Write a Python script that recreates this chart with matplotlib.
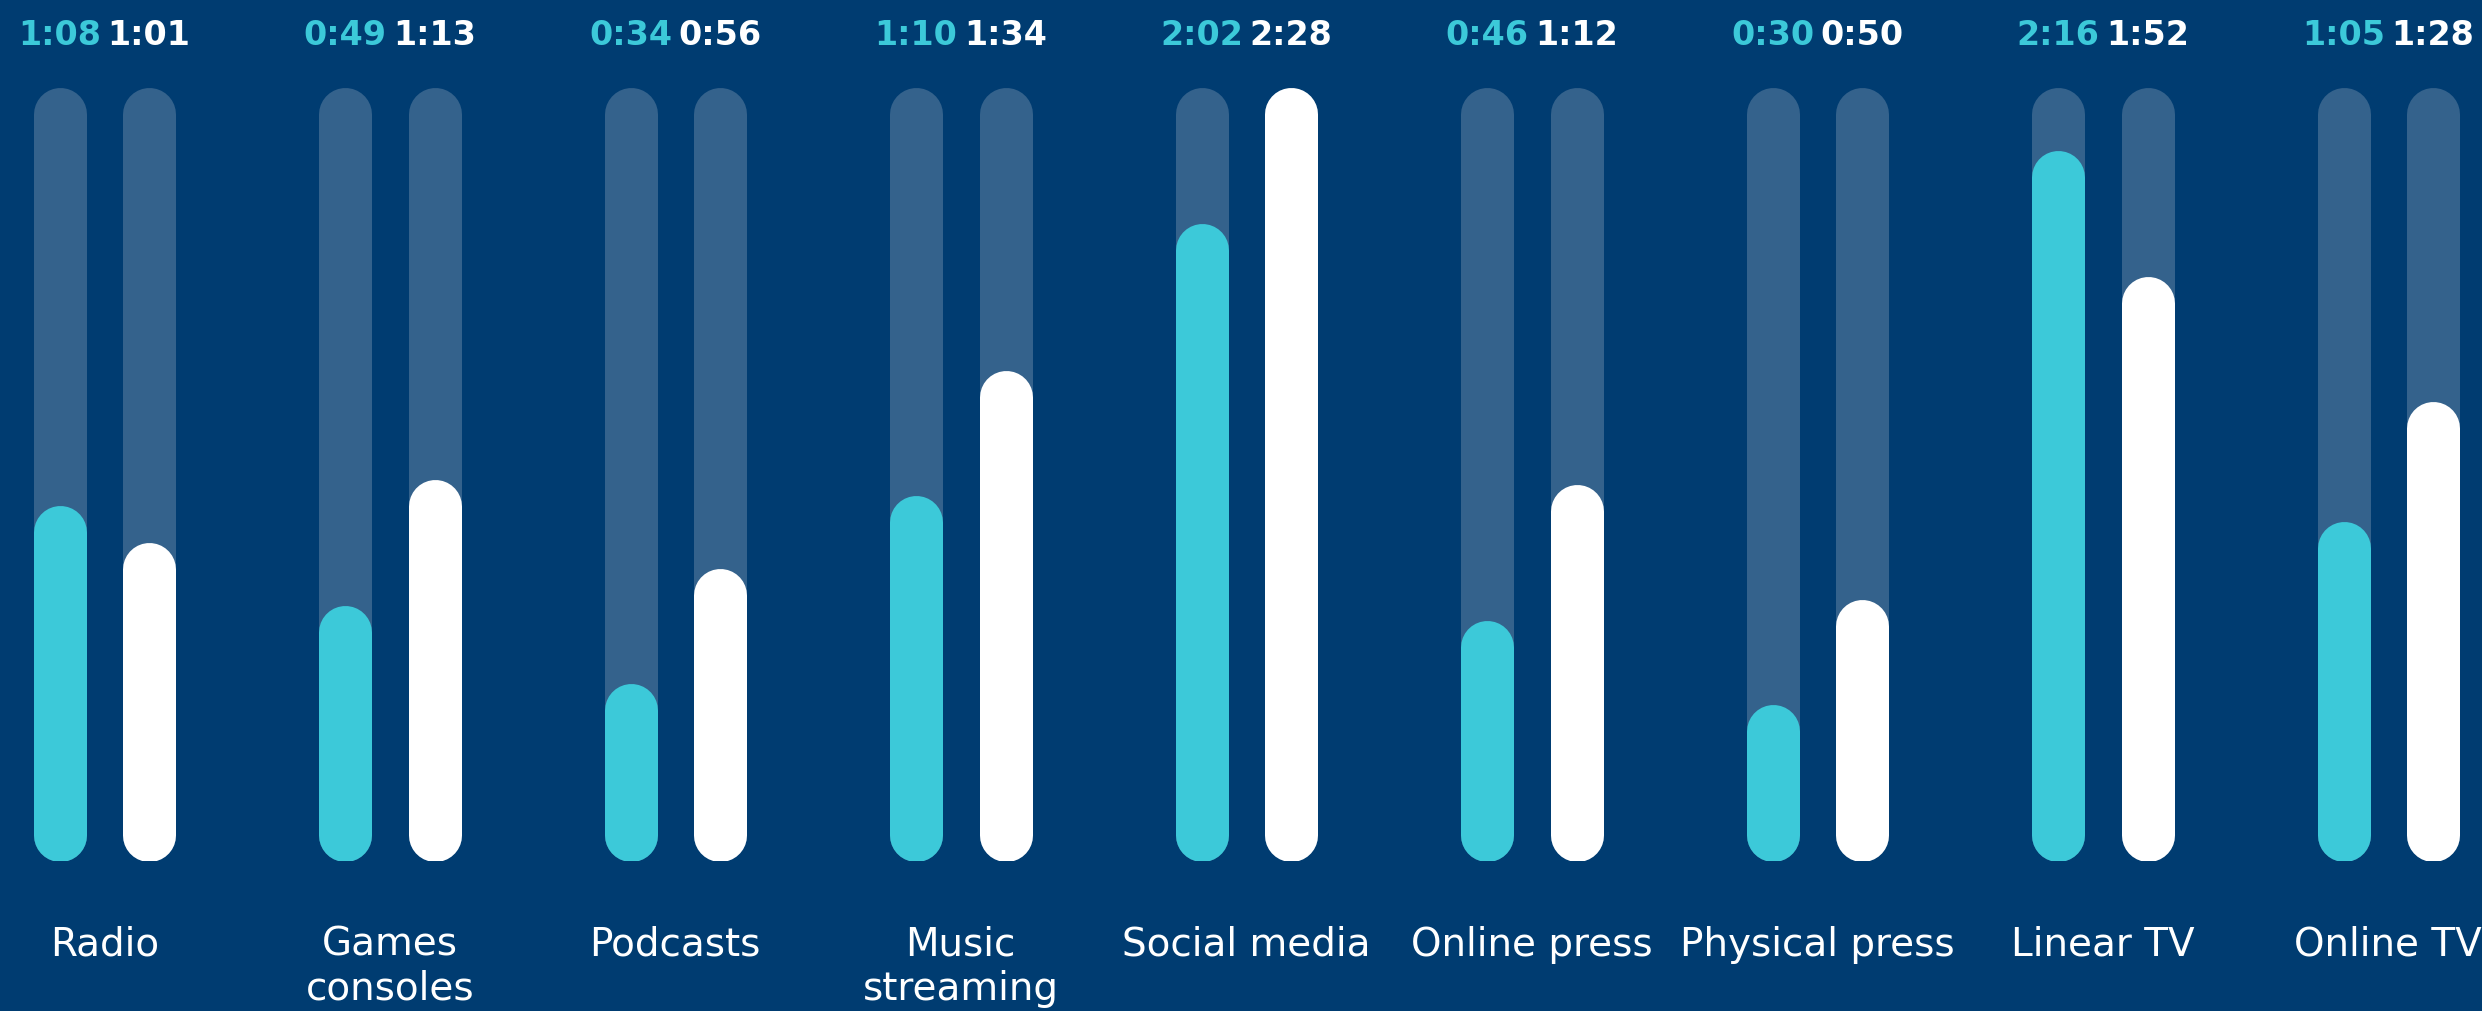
import matplotlib
matplotlib.use("Agg")
import matplotlib.pyplot as plt
from matplotlib.transforms import blended_transform_factory

# Daily time spent per medium, in minutes (teal = first group, white = second group)
categories = ["Radio", "Games\nconsoles", "Podcasts", "Music\nstreaming", "Social media",
              "Online press", "Physical press", "Linear TV", "Online TV"]
teal_minutes = [68, 49, 34, 70, 122, 46, 30, 136, 65]
white_minutes = [61, 73, 56, 94, 148, 72, 50, 112, 88]

BG = "#003C71"
TRACK = "#34628C"
TEAL = "#3CC9D9"
WHITE = "#FFFFFF"

DPI = 100
W_PX, H_PX = 2482, 1012
GROUP_PX = 285.5      # distance between category centres
FIRST_PX = 104.25     # centre of first category
BAR_PX = 53           # bar width
OFFSET_PX = 44.75     # half distance between the two bars in a pair
BOTTOM_PX, TOP_PX = 862, 89


def fmt(m):
    return f"{m // 60}:{m % 60:02d}"


fig = plt.figure(figsize=(W_PX / DPI, H_PX / DPI), dpi=DPI, facecolor=BG)
ax = fig.add_axes([0, (H_PX - BOTTOM_PX) / H_PX, 1, (BOTTOM_PX - TOP_PX) / H_PX])
ax.set_facecolor(BG)
ax.axis("off")

ymax = max(max(teal_minutes), max(white_minutes))
ax.set_xlim(-FIRST_PX / GROUP_PX, (W_PX - FIRST_PX) / GROUP_PX)
ax.set_ylim(0, ymax)

# round caps stick out by half the line width, so shorten the line by that much
r = (BAR_PX / 2) * ymax / (BOTTOM_PX - TOP_PX)
lw = BAR_PX * 72 / DPI
off = OFFSET_PX / GROUP_PX

top_tr = blended_transform_factory(ax.transData, fig.transFigure)

for i, (cat, t, w) in enumerate(zip(categories, teal_minutes, white_minutes)):
    for x, v, c in [(i - off, t, TEAL), (i + off, w, WHITE)]:
        ax.plot([x, x], [r, ymax - r], color=TRACK, lw=lw, solid_capstyle="round", zorder=1)
        ax.plot([x, x], [r, v - r], color=c, lw=lw, solid_capstyle="round", zorder=2)
        ax.text(x, 1 - 45 / H_PX, fmt(v), transform=top_tr, ha="center", va="baseline",
                color=c, fontsize=24, fontweight="bold", family="DejaVu Sans")
    for k, line in enumerate(cat.split("\n")):
        ax.text(i, 1 - (956 + 44 * k) / H_PX, line, transform=top_tr, ha="center",
                va="baseline", color=WHITE, fontsize=28, family="DejaVu Sans")

fig.savefig("out.png", dpi=DPI, facecolor=BG)
